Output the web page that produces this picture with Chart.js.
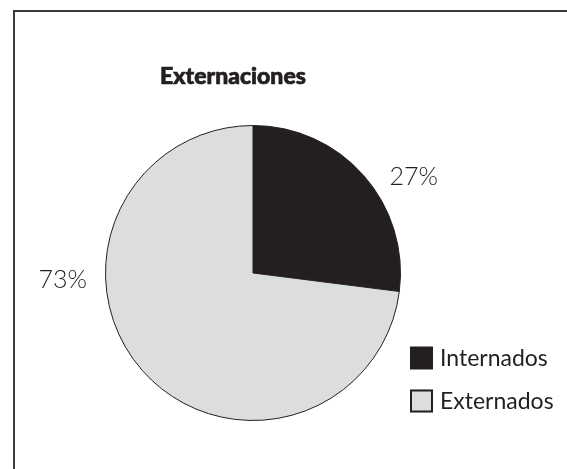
<!DOCTYPE html>
<html>
<head>
<meta charset="utf-8">
<script src="https://cdn.jsdelivr.net/npm/chart.js@4/dist/chart.umd.min.js"></script>
<style>
  html, body { margin: 0; padding: 0; background: #fff; }
  #wrap { width: 567px; height: 469px; position: relative; }
</style>
</head>
<body>
<div id="wrap"><canvas id="c" width="567" height="469"></canvas></div>
<script>
// Data
const chartTitle = 'Externaciones';
const categories = ['Internados', 'Externados'];
const shares = [27, 73];
const sliceColors = ['#231f20', '#dcdddf'];

// Frame around the figure (open on the right and bottom edges)
const framePlugin = {
  id: 'frame',
  beforeDraw(chart) {
    const ctx = chart.ctx;
    ctx.save();
    ctx.strokeStyle = '#3a3a3a';
    ctx.lineWidth = 2;
    ctx.beginPath();
    ctx.moveTo(14, 480);
    ctx.lineTo(14, 11);
    ctx.lineTo(580, 11);
    ctx.stroke();
    ctx.restore();
  }
};

// Title, slice percentages and legend
const decorPlugin = {
  id: 'decor',
  afterDraw(chart) {
    const ctx = chart.ctx;
    const meta = chart.getDatasetMeta(0);
    const arc0 = meta.data[0];
    const cx = arc0.x, cy = arc0.y, r = arc0.outerRadius;
    ctx.save();

    // Title (slightly stroked for a heavier weight)
    ctx.fillStyle = '#231f20';
    ctx.strokeStyle = '#231f20';
    ctx.lineWidth = 0.7;
    ctx.font = '900 23px "Lato", sans-serif';
    ctx.textAlign = 'center';
    ctx.textBaseline = 'middle';
    ctx.fillText(chartTitle, cx - 20, 77);
    ctx.strokeText(chartTitle, cx - 20, 77);

    // Percent labels placed around the pie
    const offsets = [[1.09, -0.65], [-1.29, 0.05]];
    ctx.font = '300 25px "Lato", sans-serif';
    ctx.fillStyle = '#231f20';
    const values = chart.data.datasets[0].data;
    values.forEach((v, i) => {
      ctx.fillText(v + '%', cx + offsets[i][0] * r, cy + offsets[i][1] * r);
    });

    // Legend
    const lx = 410, ly0 = 358, gap = 43, box = 23;
    ctx.textAlign = 'left';
    ctx.font = '23px "Lato", sans-serif';
    chart.data.labels.forEach((lab, i) => {
      const y = ly0 + i * gap;
      ctx.fillStyle = sliceColors[i];
      ctx.fillRect(lx, y - box / 2, box, box);
      if (i === 1) {
        ctx.strokeStyle = '#231f20';
        ctx.lineWidth = 2;
        ctx.strokeRect(lx + 1, y - box / 2 + 1, box - 2, box - 2);
      }
      ctx.fillStyle = '#231f20';
      ctx.fillText(lab, lx + 30, y + 1);
    });
    ctx.restore();
  }
};

new Chart(document.getElementById('c'), {
  type: 'pie',
  data: {
    labels: categories,
    datasets: [{
      data: shares,
      backgroundColor: sliceColors,
      borderColor: '#231f20',
      borderWidth: 1
    }]
  },
  options: {
    responsive: false,
    animation: false,
    layout: { padding: { left: 105, right: 166, top: 125, bottom: 48 } },
    plugins: {
      legend: { display: false },
      tooltip: { enabled: false },
      title: { display: false }
    }
  },
  plugins: [framePlugin, decorPlugin]
});
</script>
</body>
</html>
